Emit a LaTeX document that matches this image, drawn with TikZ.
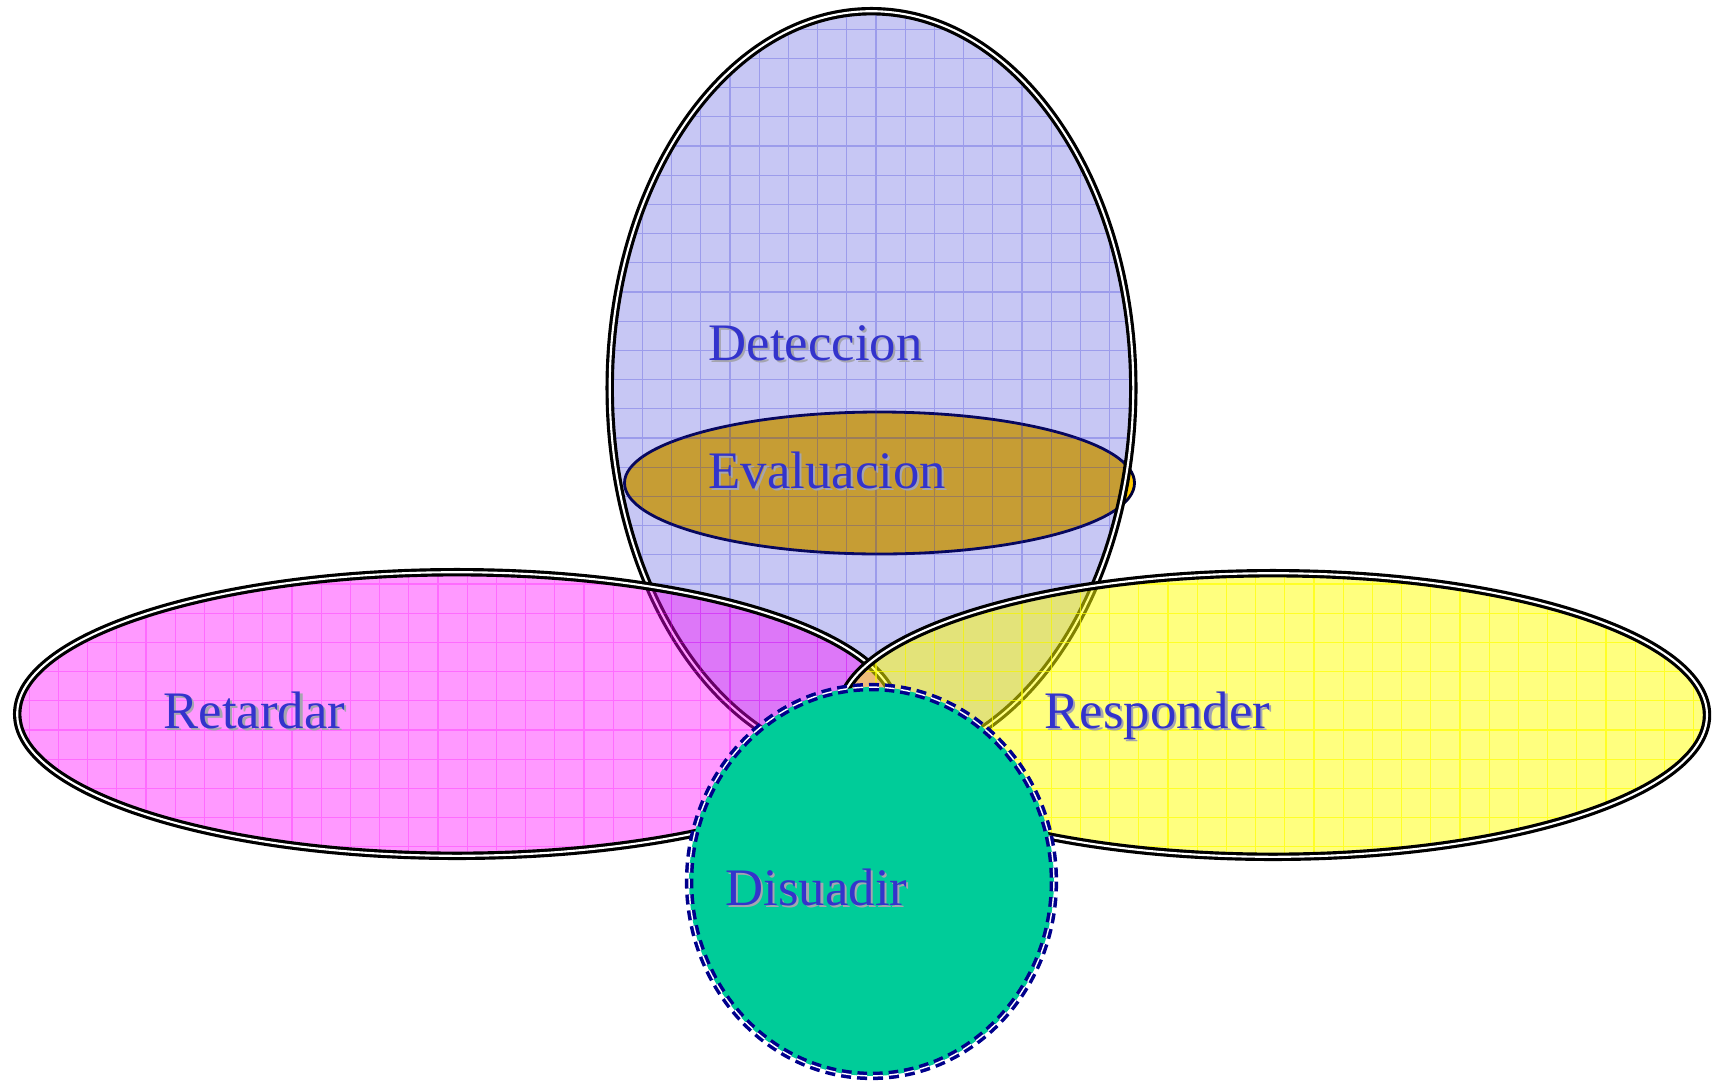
\documentclass[tikz,border=0pt]{standalone}
\usepackage{fontspec}
\setmainfont{Liberation Serif}
\definecolor{labelblue}{RGB}{51,51,204}
\definecolor{shadowgray}{RGB}{165,165,175}
\definecolor{evalgold}{RGB}{255,200,0}
\definecolor{disteal}{RGB}{0,204,153}
\definecolor{disnavy}{RGB}{0,0,140}
\definecolor{detblue}{RGB}{30,30,210}
\definecolor{retpink}{RGB}{255,0,255}
\definecolor{resyellow}{RGB}{255,255,0}
\newcommand{\shadowlabel}[1]{\makebox[0pt][l]{\hspace{0.22mm}\raisebox{-0.22mm}{\color{shadowgray}#1}}#1}
\begin{document}
\begin{tikzpicture}[x=0.1mm, y=-0.1mm, line join=round,
	rim/.style={draw=black, line width=0.9pt, double=white, double distance=0.6pt},
	gridfill/.style={path picture={\draw[#1, line width=0.3pt, step=2.92mm] (path picture bounding box.south west) grid (path picture bounding box.north east);}},
	lbl/.style={anchor=base west, inner sep=0pt, text=labelblue, font=\fontsize{15}{18}\selectfont}]
	\useasboundingbox (0,0) rectangle (1713,1081);
	% evaluacion lies under the detection ellipse
	\draw[draw=disnavy!40!black, line width=0.8pt, fill=evalgold] (879.5,483) ellipse (255 and 71);
	\path[rim, fill=detblue, fill opacity=0.25, gridfill={detblue, draw opacity=0.25}] (871.5,388) ellipse (261.8 and 376.8);
	\path[rim, fill=retpink, fill opacity=0.4, gridfill={retpink, draw opacity=0.3}] (457,714) ellipse (439.8 and 141.8);
	\path[rim, fill=resyellow, fill opacity=0.5, gridfill={resyellow, draw opacity=0.7}] (1273,715) ellipse (434 and 141.8);
	\draw[draw=disnavy, line width=1pt, double=white, double distance=0.4pt, dash pattern=on 2.8pt off 1.7pt, fill=disteal] (871.5,881.5) ellipse (182.4 and 194.4);
	\node[lbl] (deteccion) at (708,360) {\shadowlabel{Deteccion}};
	\node[lbl] (evaluacion) at (708,488) {\shadowlabel{Evaluacion}};
	\node[lbl] (retardar) at (163,728) {\shadowlabel{Retardar}};
	\node[lbl] (responder) at (1044,728) {\shadowlabel{Responder}};
	\node[lbl] (disuadir) at (725,905) {\shadowlabel{Disuadir}};
\end{tikzpicture}
\end{document}
